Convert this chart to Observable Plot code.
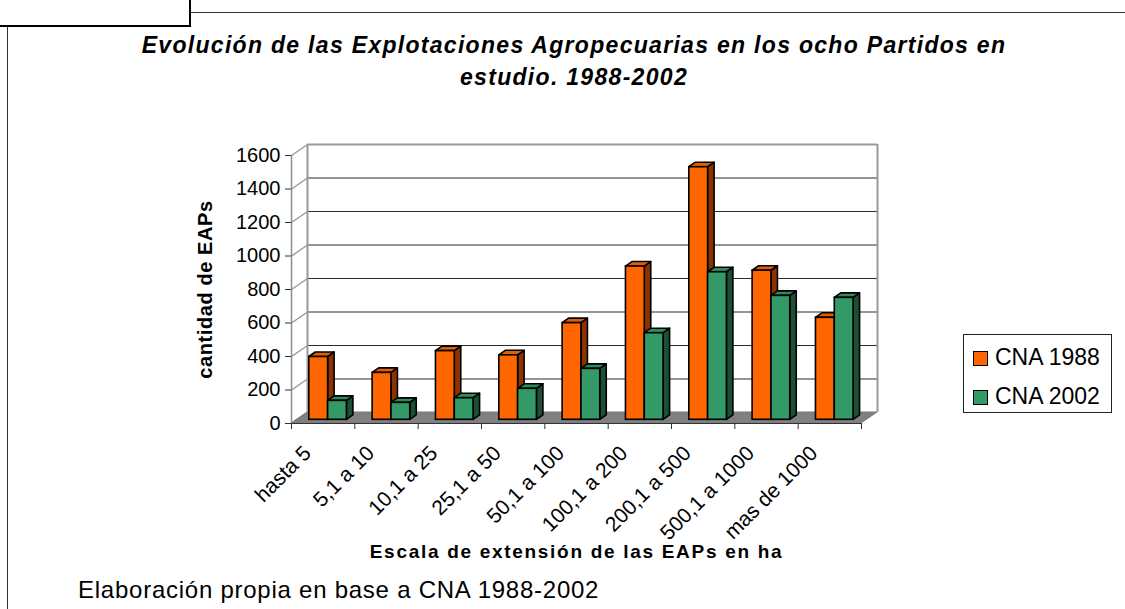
<!DOCTYPE html>
<html><head><meta charset="utf-8">
<script src="https://cdn.jsdelivr.net/npm/d3@7"></script>
<script src="https://cdn.jsdelivr.net/npm/@observablehq/plot@0.6"></script>
<style>
body{margin:0;background:#fff;width:1125px;height:609px;overflow:hidden;position:relative;font-family:"Liberation Sans",Arial,sans-serif;}
#chart{position:absolute;left:0;top:0;}
.deco{position:absolute;background:#000;}
.title{position:absolute;left:0;width:1148px;top:29px;text-align:center;font-weight:bold;font-style:italic;font-size:23px;line-height:32px;letter-spacing:1.3px;color:#000;}
.caption{position:absolute;left:78px;top:576px;font-size:24px;letter-spacing:0.75px;color:#000;white-space:nowrap;}
.legend{position:absolute;left:963px;top:334px;width:147px;height:77px;border:1px solid #222;background:#fff;}
.item{position:absolute;left:9px;font-size:23px;line-height:24px;white-space:nowrap;}
.sw{display:inline-block;width:13px;height:13px;border:1px solid #000;margin-right:7px;vertical-align:-1px;}
</style></head><body>
<div class="deco" style="left:0;top:25px;width:191px;height:2px"></div>
<div class="deco" style="left:189px;top:0;width:2px;height:27px"></div>
<div class="deco" style="left:191px;top:12px;width:934px;height:1px;background:#333"></div>
<div class="deco" style="left:7px;top:27px;width:1px;height:582px;background:#333"></div>
<div class="title" id="title"></div>
<div id="chart"></div>
<div class="legend" id="legend"></div>
<div class="caption" id="caption"></div>
<script>
const titleLines = ["Evolución de las Explotaciones Agropecuarias en los ocho Partidos en", "estudio. 1988-2002"];
const categories = ["hasta 5","5,1 a 10","10,1 a 25","25,1 a 50","50,1 a 100","100,1 a 200","200,1 a 500","500,1 a 1000","mas de 1000"];
const seriesNames = ["CNA 1988","CNA 2002"];
const cna1988 = [375, 280, 410, 385, 577, 915, 1508, 890, 609];
const cna2002 = [113, 101, 129, 185, 304, 517, 881, 740, 728];
const yTicks = [0,200,400,600,800,1000,1200,1400,1600];
const yLabel = "cantidad de EAPs";
const xLabel = "Escala de extensión de las EAPs en ha";
const captionText = "Elaboración propia en base a CNA 1988-2002";

const colors = {front:["#FF6600","#339966"], top:["#E65C00","#2E8A5C"], side:["#8A3300","#1D4F36"]};

document.getElementById("title").innerHTML = titleLines.join("<br>");
document.getElementById("caption").textContent = captionText;
document.getElementById("legend").innerHTML = seriesNames.map((s,k)=>
  `<div class="item" style="top:${k===0?10:49}px"><span class="sw" style="background:${colors.front[k]}"></span>${s}</div>`).join("");

const W=1125,H=609,mL=291,mR=264,mT=155,mB=186;
const n = categories.length;
const pxX = (W-mL-mR)/n, pxY = (H-mT-mB)/1600;
const wallDx=16, wallDy=11;        // depth of the 3D box
const barDx=5, barDy=3.7;          // bar placement in depth
const bdx=6.5, bdy=4.5;            // bar thickness in depth
const ddx = bdx/pxX, ddy = bdy/pxY;
const slots = [[0.202,0.499],[0.499,0.796]];
const seriesVals = [cna1988, cna2002];

const fronts=[], sides=[], tops=[];
seriesVals.forEach((vals,k)=>{
  fronts[k]=[]; sides[k]=[]; tops[k]=[];
  vals.forEach((v,i)=>{
    const x1=i+slots[k][0], x2=i+slots[k][1], id=k+"-"+i;
    fronts[k].push({x1,x2,v});
    sides[k].push({id,x:x2,ya:0,yb:v},{id,x:x2+ddx,ya:ddy,yb:v+ddy});
    tops[k].push({id,y:v,xa:x1,xb:x2},{id,y:v+ddy,xa:x1+ddx,xb:x2+ddx});
  });
});
const wdx = wallDx/pxX, wdy = wallDy/pxY;
const floor = [{y:0,xa:0,xb:n},{y:wdy,xa:wdx,xb:n+wdx}];

const marks = [
  Plot.ruleY(yTicks.filter(t=>t>0&&t<1600), {dx:wallDx, dy:-wallDy, stroke:"#2a2a2a", strokeWidth:1}),
  Plot.ruleY([1600], {dx:wallDx, dy:-wallDy, stroke:"#999", strokeWidth:2}),
  Plot.ruleX([0,n], {y1:0, y2:1600, dx:wallDx, dy:-wallDy, stroke:"#999", strokeWidth:2}),
  Plot.link(yTicks, {x1:0, x2:wdx, y1:d=>d, y2:d=>d+wdy, stroke:"#999", strokeWidth:1.5}),
  Plot.area(floor, {y1:"y", x1:"xa", x2:"xb", fill:"#808080", stroke:"#777", strokeWidth:1}),
  Plot.ruleY([0], {stroke:"#333", strokeWidth:1}),
  Plot.ruleX([0], {y1:0, y2:1600, stroke:"#8c8c8c", strokeWidth:1.5}),
  Plot.ruleX(d3.range(n+1), {y1:0, y2:-6/pxY, stroke:"#333"}),
  Plot.axisY({ticks:yTicks, tickSize:6, tickPadding:5, fontSize:20, tickFormat:d=>String(d), label:null, stroke:"#333"}),
  Plot.text(categories, {x:(d,i)=>i+0.5, y:0, text:d=>d, rotate:-45, textAnchor:"end", lineAnchor:"bottom", dx:-11, dy:31, fontSize:21, fill:"#000"}),
  Plot.text([yLabel], {frameAnchor:"left", text:d=>d, rotate:-90, textAnchor:"middle", lineAnchor:"middle", dx:-86, fontSize:20, fontWeight:"bold", fill:"#000"}),
  Plot.text([xLabel], {frameAnchor:"bottom", text:d=>d, textAnchor:"middle", lineAnchor:"bottom", dy:134, fontSize:19, fontWeight:"bold", fill:"#000"})
];
[0,1].forEach(k=>marks.push(Plot.area(sides[k], {x1:"x", y1:"ya", y2:"yb", z:"id", fill:colors.side[k], stroke:"#000", strokeWidth:1.6, dx:barDx, dy:-barDy})));
[0,1].forEach(k=>marks.push(Plot.area(tops[k], {y1:"y", x1:"xa", x2:"xb", z:"id", fill:colors.top[k], stroke:"#000", strokeWidth:1.6, dx:barDx, dy:-barDy})));
[0,1].forEach(k=>marks.push(Plot.rect(fronts[k], {x1:"x1", x2:"x2", y1:0, y2:"v", fill:colors.front[k], stroke:"#000", strokeWidth:1.6, dx:barDx, dy:-barDy})));

const chart = Plot.plot({
  width:W, height:H, marginLeft:mL, marginRight:mR, marginTop:mT, marginBottom:mB,
  x:{domain:[0,n], axis:null},
  y:{domain:[0,1600], axis:null},
  style:{fontFamily:"Liberation Sans, Arial, sans-serif", color:"#000", background:"transparent", overflow:"visible"},
  marks
});
document.getElementById("chart").appendChild(chart);
d3.select(chart).selectAll("text").filter(function(){return this.textContent===xLabel;}).attr("letter-spacing","1.7px");
d3.select(chart).selectAll("text").filter(function(){return this.textContent===yLabel;}).attr("letter-spacing","0.6px");
</script>
</body></html>
